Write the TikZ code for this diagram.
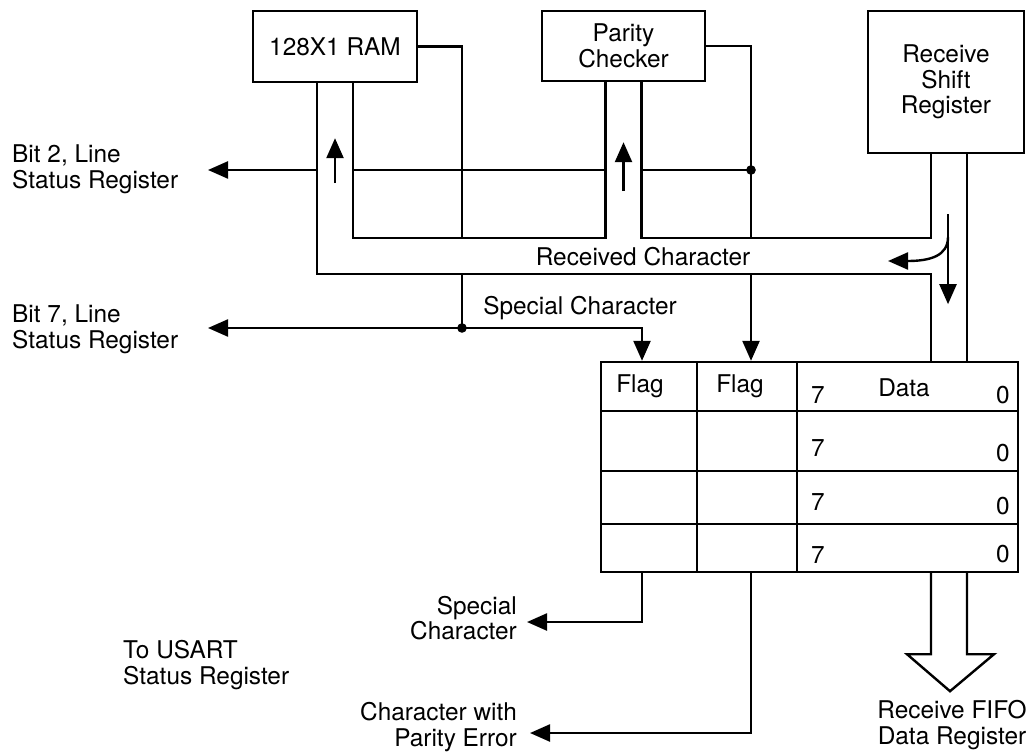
\documentclass[tikz,border=0pt]{standalone}
\usepackage{fontspec}
\setmainfont{TeX Gyre Heros}
\usetikzlibrary{arrows.meta,positioning}

\begin{document}
\begin{tikzpicture}[x=0.5pt, y=-0.5pt, >={Triangle[length=10pt,width=8.5pt]}, line width=1.2pt,
  every node/.style={font=\fontsize{12.2}{12.8}\selectfont, inner sep=0pt, align=center},
  blk/.style={draw, fill=white, outer sep=0.6pt},
  bandin/.style={white, line width=17pt, line join=miter}]
\useasboundingbox (0,0) rectangle (1026,753);
\node[blk, minimum width=82pt, minimum height=35.5pt] (ram) at (335,46.5) {128X1 RAM};
\node[blk, minimum width=81.5pt, minimum height=35pt] (par) at (623.5,46) {Parity\\Checker};
\node[blk, minimum width=78pt, minimum height=71pt] (rsr) at (946,82) {Receive\\Shift\\Register};
\node[blk, minimum width=208.5pt, minimum height=105pt] (fifo) at (809.5,467) {};
\foreach \c in {697,797} \draw (\c,362) -- (\c,572);
\foreach \r in {411,471,524} \draw (601,\r) -- (1018,\r);
\node (flag1) at (640,386) {Flag};
\node (flag2) at (740,386) {Flag};
\node (data) at (904,388) {Data};
\foreach \r/\ya/\yb in {1/395/395,2/448/453,3/502/506,4/555/554}{
  \node (msb\r) at (818,\ya) {7};
  \node (lsb\r) at (1003,\yb) {0};
}
\coordinate (rsrb) at ([xshift=1.5pt]rsr.south);
\coordinate (rxc) at (949,256);
\coordinate (hi) at (949,238);
\coordinate (ho) at (949,274);
\coordinate (ramL) at ([xshift=-9pt]ram.south);
\coordinate (ramR) at ([xshift=9pt]ram.south);
\coordinate (parL) at ([xshift=-9pt]par.south);
\coordinate (parR) at ([xshift=9pt]par.south);
\coordinate (rsrL) at ([xshift=-9pt]rsrb);
\coordinate (rsrR) at ([xshift=9pt]rsrb);
\coordinate (spdot) at (462,328);
\coordinate (pdot) at (751,170);
\coordinate (fa) at (642,0);
\coordinate (fb) at (751,0);
\coordinate (b2tip) at (208,170);
\coordinate (b7tip) at (208,328);
\coordinate (sctip) at (527,622);
\coordinate (petip) at (530,733);
\draw (ram.east) -| (spdot);
\draw[->] (spdot) -| (fa |- fifo.north);
\draw[->] (par.east) -| (fb |- fifo.north);
\draw[->] (pdot) -- (b2tip);
\draw[->] (spdot) -- (b7tip);
\draw[->] (fa |- fifo.south) |- (sctip);
\draw[->] (fb |- fifo.south) |- (petip);
\draw[bandin] (ram.south) |- (rxc);
\draw[bandin] (par.south) -- (par.south |- rxc);
\draw[bandin] (rsrb) -- (rsrb |- fifo.north);
\draw (ramL) |- (rsrL |- ho) -- (rsrL |- fifo.north);
\draw (ramR) |- (parL |- hi) -- (parL);
\draw (parR) |- (rsrL |- hi) -- (rsrL);
\draw (rsrR) -- (rsrR |- fifo.north);
\draw[->] (ram.south) ++(0,100) -- ++(0,-45);
\draw[->] (par.south) ++(0,109) -- ++(0,-49);
\draw[->] (rsrb) ++(-1,60) -- ++(0,90);
\draw[->] (948,237) .. controls (948,256) and (930,261) .. (888,261);
\fill (spdot) circle (2.4pt);
\fill (pdot) circle (2.4pt);
\draw[line join=miter] (rsrL |- fifo.south) -- ++(0,81) -- ++(-24,0) -- ++(43,37) -- ++(44,-37) -- ++(-27,0) -- ++(0,-81);
\node (rc) at (643,257) {Received Character};
\node (sc) at (580,308) {Special Character};
\node[anchor=west, align=left] (b2) at (11,169) {Bit 2, Line\\Status Register};
\node[anchor=west, align=left] (b7) at (11,329) {Bit 7, Line\\Status Register};
\node[anchor=west, align=left] (usart) at (122,665) {To USART\\Status Register};
\node[anchor=east, align=right] (scout) at (518,618) {Special\\Character};
\node[anchor=east, align=right] (peout) at (518,727) {Character with\\Parity Error};
\node (fifoout) at (952,725) {Receive FIFO\\Data Register};
\end{tikzpicture}
\end{document}
